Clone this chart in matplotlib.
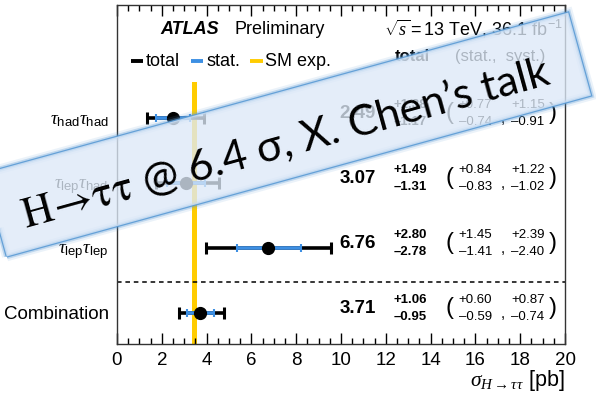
import matplotlib
matplotlib.use('Agg')
import matplotlib.pyplot as plt
from matplotlib.patches import Rectangle
from matplotlib.transforms import Affine2D
from matplotlib.ticker import MultipleLocator

plt.rcParams['font.family'] = ['Liberation Sans', 'DejaVu Sans']
plt.rcParams['mathtext.fontset'] = 'custom'
plt.rcParams['mathtext.rm'] = 'Liberation Sans'
plt.rcParams['mathtext.it'] = 'Liberation Serif:italic'
plt.rcParams['mathtext.bf'] = 'Liberation Sans:bold'

# channel results, cross section in pb
channels = [r'$\tau_{\rm had}\tau_{\rm had}$', r'$\tau_{\rm lep}\tau_{\rm had}$',
            r'$\tau_{\rm lep}\tau_{\rm lep}$', 'Combination']
ypos = [4, 3, 2, 1]
central = [2.49, 3.07, 6.76, 3.71]
tot_up = [1.38, 1.49, 2.80, 1.06]
tot_dn = [1.17, 1.31, 2.78, 0.95]
stat_up = [0.77, 0.84, 1.45, 0.60]
stat_dn = [0.74, 0.83, 1.41, 0.59]
syst_up = [1.15, 1.22, 2.39, 0.87]
syst_dn = [0.91, 1.02, 2.40, 0.74]
sm_xs = 3.46
sm_err = 0.13
xticks = list(range(0, 21, 2))

fig = plt.figure(figsize=(5.96, 3.96), dpi=100)
ax = fig.add_axes([117 / 596, 1 - 344 / 396, 448 / 596, 339 / 396])
ax.set_xlim(0, 20)
ax.set_ylim(0.523, 5.738)

# SM expectation band
ax.fill_betweenx([0.4, 4.55], sm_xs - sm_err, sm_xs + sm_err, color='#ffcc00', lw=0, zorder=1)

# separator between channels and combination
ax.axhline(1.48, color='black', lw=1.1, ls=(0, (3, 2.5)), zorder=1)

# total and stat uncertainties
ax.errorbar(central, ypos, xerr=[tot_dn, tot_up], fmt='none', ecolor='black',
            elinewidth=2.6, capsize=4, capthick=2.2, zorder=3)
ax.errorbar(central, ypos, xerr=[stat_dn, stat_up], fmt='none', ecolor='#3d8fe3',
            elinewidth=2.6, capsize=3, capthick=1.5, zorder=4)
ax.plot(central, ypos, 'o', color='black', ms=8.5, zorder=5)

# numbers column
for y, c, tu, td, su, sd, yu, yd in zip(ypos, central, tot_up, tot_dn, stat_up, stat_dn, syst_up, syst_dn):
    ax.text(10.75, y + 0.07, f'{c:.2f}', fontsize=13.5, fontweight='bold', ha='center', va='center')
    ax.text(13.1, y + 0.2, f'+{tu:.2f}', fontsize=9.5, fontweight='bold', ha='center', va='center')
    ax.text(13.1, y - 0.06, f'\u2013{td:.2f}', fontsize=9.5, fontweight='bold', ha='center', va='center')
    ax.text(14.85, y + 0.07, '(', fontsize=17, ha='center', va='center')
    ax.text(16.0, y + 0.2, f'+{su:.2f}', fontsize=9.5, ha='center', va='center')
    ax.text(16.0, y - 0.06, f'\u2013{sd:.2f}', fontsize=9.5, ha='center', va='center')
    ax.text(17.2, y - 0.02, ',', fontsize=11, ha='center', va='center')
    ax.text(18.35, y + 0.2, f'+{yu:.2f}', fontsize=9.5, ha='center', va='center')
    ax.text(18.35, y - 0.06, f'\u2013{yd:.2f}', fontsize=9.5, ha='center', va='center')
    ax.text(19.45, y + 0.07, ')', fontsize=17, ha='center', va='center')

# header
ax.text(0.096, 0.929, 'ATLAS', transform=ax.transAxes, fontsize=13, fontweight='bold',
        fontstyle='italic', va='center')
ax.text(0.262, 0.929, 'Preliminary', transform=ax.transAxes, fontsize=13, va='center')
ax.text(0.597, 0.929, r'$\sqrt{s}=13$ TeV, 36.1 fb$^{-1}$', transform=ax.transAxes,
        fontsize=13, va='center')
ax.text(13.2, 4.95, 'total', fontsize=12, fontweight='bold', ha='center', va='center')
ax.text(17.1, 4.95, '(stat.,  syst.)', fontsize=12, ha='center', va='center')

# legend
leg_items = [('total', 'black', 0.031), ('stat.', '#3d8fe3', 0.165), ('SM exp.', '#ffcc00', 0.297)]
for name, col, x0 in leg_items:
    ax.plot([x0, x0 + 0.028], [0.834, 0.834], color=col, lw=2.8, transform=ax.transAxes,
            solid_capstyle='butt')
    ax.text(x0 + 0.034, 0.832, name, transform=ax.transAxes, fontsize=13, va='center')

ax.set_yticks(ypos)
ax.set_yticklabels(channels, fontsize=13.5)
ax.set_xticks(xticks)
ax.xaxis.set_minor_locator(MultipleLocator(0.5))
ax.tick_params(axis='x', which='both', direction='in', top=True, labelsize=13.5, pad=6)
ax.tick_params(axis='x', which='major', length=8, width=1)
ax.tick_params(axis='x', which='minor', length=4, width=1)
ax.tick_params(axis='y', length=0, pad=6)
for s in ax.spines.values():
    s.set_color('#333333')
    s.set_linewidth(1)
ax.set_xlabel(r'$\sigma_{H\to\tau\tau}$ [pb]', fontsize=15.5, loc='right', labelpad=-1)

# slide banner across the plot
ang = 15.4
w, h = 606, 86
tr = Affine2D().rotate_deg(ang).translate(287.5, 396 - 134.5)
for lw, a in [(7, 0.12), (4, 0.3), (1.8, 0.9)]:
    fig.add_artist(Rectangle((-w / 2, -h / 2), w, h, transform=tr, fill=False,
                             ec='#5b9bd5', lw=lw, alpha=a, zorder=9))
fig.add_artist(Rectangle((-w / 2, -h / 2), w, h, transform=tr, fc='#dde9f8', ec='none',
                         alpha=0.78, zorder=10))
anchor = (136 / 596, 1 - 198 / 396)
fig.text(anchor[0], anchor[1], r'$\mathrm{H}\!\rightarrow\!\mathrm{\tau\tau}$', math_fontfamily='stix',
         fontsize=31, rotation=ang, rotation_mode='anchor', ha='right', va='baseline', zorder=11)
fig.text(anchor[0], anchor[1], ' @ 6.4 \u03c3, X. Chen\u2019s talk', family=['Lato', 'DejaVu Sans'],
         fontsize=31, rotation=ang, rotation_mode='anchor', ha='left', va='baseline', zorder=11)

fig.savefig('out.png', dpi=100)
